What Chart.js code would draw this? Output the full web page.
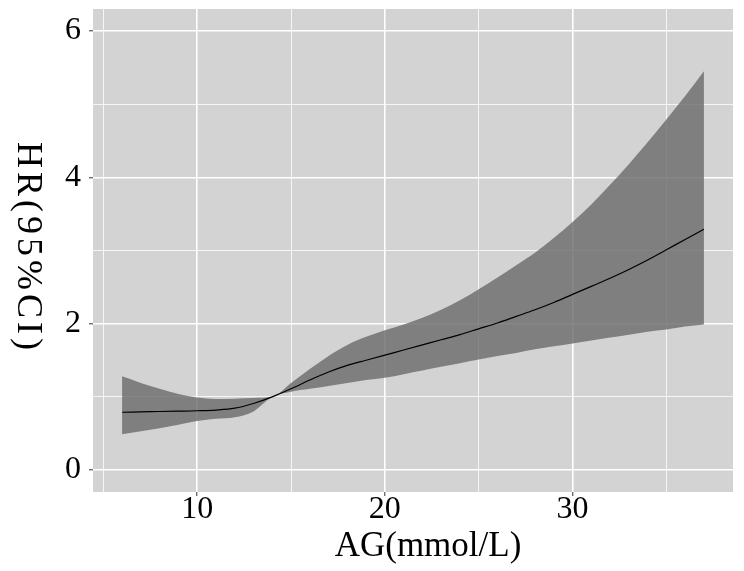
<!DOCTYPE html>
<html>
<head>
<meta charset="utf-8">
<script src="https://cdn.jsdelivr.net/npm/chart.js@4"></script>
<style>
  html, body { margin: 0; padding: 0; background: #ffffff; }
  #wrap { width: 744px; height: 571px; }
</style>
</head>
<body>
<div id="wrap"><canvas id="rcs"></canvas></div>
<script>
// AG values (mmol/L)
const ag = [6, 7, 8, 9, 10, 11, 12, 13, 14, 15, 16, 17, 18, 19, 20, 21,
            22, 23, 24, 25, 26, 27, 28, 29, 30, 31, 32, 33, 34, 35, 36, 37];
// hazard ratio
const hr = [0.79, 0.795, 0.80, 0.805, 0.81, 0.82, 0.845, 0.91, 1.00, 1.11, 1.23, 1.34, 1.43, 1.50, 1.57, 1.64,
            1.71, 1.78, 1.85, 1.93, 2.01, 2.10, 2.19, 2.29, 2.40, 2.51, 2.62, 2.74, 2.87, 3.01, 3.15, 3.29];
// 95% CI upper / lower
const hrUpper = [1.28, 1.19, 1.11, 1.04, 0.99, 0.97, 0.975, 0.985, 1.00, 1.19, 1.38, 1.56, 1.71, 1.82, 1.91, 1.99,
                 2.08, 2.19, 2.32, 2.47, 2.63, 2.80, 2.97, 3.17, 3.39, 3.63, 3.90, 4.18, 4.48, 4.79, 5.11, 5.45];
const hrLower = [0.49, 0.53, 0.57, 0.62, 0.67, 0.70, 0.72, 0.80, 1.00, 1.07, 1.11, 1.15, 1.19, 1.23, 1.26, 1.31,
                 1.36, 1.41, 1.46, 1.51, 1.56, 1.60, 1.65, 1.69, 1.73, 1.77, 1.81, 1.85, 1.89, 1.92, 1.96, 1.99];

// ticks
const xTicks = [5, 10, 15, 20, 25, 30, 35];
const xLabels = [10, 20, 30];
const yTicks = [0, 1, 2, 3, 4, 5, 6];
const yLabels = [0, 2, 4, 6];

const xTitle = 'AG(mmol/L)';
const yTitle = 'HR(95%CI)';

const serif = "'Liberation Serif', 'Times New Roman', serif";

let toPoints = (ys) => ag.map((x, i) => ({ x: x, y: ys[i] }));

// grey panel behind everything
const panelBg = {
    id: 'panelBg',
    beforeDraw(chart) {
        const { ctx, chartArea: a } = chart;
        ctx.save();
        ctx.fillStyle = '#d3d3d3';
        ctx.fillRect(a.left, a.top, a.right - a.left, a.bottom - a.top);
        ctx.restore();
    }
};

// axis titles (y one reads top to bottom)
const axisTitles = {
    id: 'axisTitles',
    afterDraw(chart) {
        const ctx = chart.ctx;
        ctx.save();
        ctx.fillStyle = '#000000';
        ctx.font = '35px ' + serif;
        ctx.textAlign = 'center';
        ctx.textBaseline = 'alphabetic';
        ctx.fillText(xTitle, 428, 556);

        ctx.translate(18, 246);
        ctx.rotate(Math.PI / 2);
        ctx.letterSpacing = '4px';
        ctx.font = '36px ' + serif;
        ctx.fillText(yTitle, 2, 0);
        ctx.restore();
    }
};

const ctx = document.getElementById('rcs');

const dataset = {
    datasets: [
        {
            label: 'HR',
            data: toPoints(hr),
            borderColor: '#000000',
            borderWidth: 1.2,
            pointRadius: 0,
            cubicInterpolationMode: 'monotone',
            fill: false
        },
        {
            label: 'upper',
            data: toPoints(hrUpper),
            borderWidth: 0,
            borderColor: 'rgba(0,0,0,0)',
            backgroundColor: 'rgba(108,108,108,0.82)',
            pointRadius: 0,
            cubicInterpolationMode: 'monotone',
            fill: '+1'
        },
        {
            label: 'lower',
            data: toPoints(hrLower),
            borderWidth: 0,
            borderColor: 'rgba(0,0,0,0)',
            pointRadius: 0,
            cubicInterpolationMode: 'monotone',
            fill: false
        }
    ]
};

const config = {
    type: 'line',
    data: dataset,
    options: {
        responsive: true,
        maintainAspectRatio: false,
        animation: false,
        layout: { padding: { left: 0, top: 9, right: 11, bottom: 0 } },
        plugins: {
            legend: { display: false },
            tooltip: { enabled: false }
        },
        scales: {
            x: {
                type: 'linear',
                min: 4.45,
                max: 38.55,
                afterFit: (scale) => {
                    scale.height = 79;
                    scale.paddingLeft = 0;
                    scale.paddingRight = 0;
                },
                afterBuildTicks: (scale) => { scale.ticks = xTicks.map(v => ({ value: v })); },
                border: { display: false },
                grid: {
                    color: '#ffffff',
                    lineWidth: (c) => xLabels.includes(c.tick.value) ? 1.6 : 0.8,
                    tickColor: (c) => xLabels.includes(c.tick.value) ? '#333333' : 'rgba(0,0,0,0)',
                    tickLength: 4,
                    tickWidth: 1
                },
                ticks: {
                    autoSkip: false,
                    maxRotation: 0,
                    padding: -6,
                    color: '#000000',
                    font: { family: serif, size: 32 },
                    callback: (v) => xLabels.includes(v) ? String(v) : ''
                }
            },
            y: {
                min: -0.3,
                max: 6.3,
                afterFit: (scale) => {
                    scale.width = 93;
                    scale.paddingTop = 0;
                    scale.paddingBottom = 0;
                },
                afterBuildTicks: (scale) => { scale.ticks = yTicks.map(v => ({ value: v })); },
                border: { display: false },
                grid: {
                    color: '#ffffff',
                    lineWidth: (c) => yLabels.includes(c.tick.value) ? 1.6 : 0.8,
                    tickColor: (c) => yLabels.includes(c.tick.value) ? '#333333' : 'rgba(0,0,0,0)',
                    tickLength: 4,
                    tickWidth: 1
                },
                ticks: {
                    autoSkip: false,
                    padding: 8,
                    color: '#000000',
                    font: { family: serif, size: 32 },
                    callback: (v) => yLabels.includes(v) ? String(v) : ''
                }
            }
        }
    },
    plugins: [panelBg, axisTitles]
};

const chart = new Chart(ctx, config);
</script>
</body>
</html>
